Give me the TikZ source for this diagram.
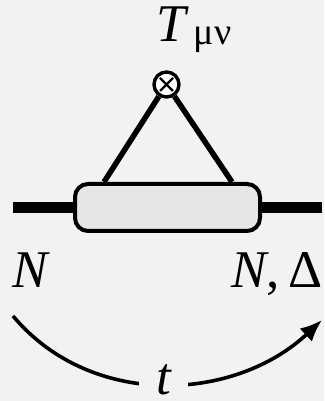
\documentclass[tikz,border=0pt]{standalone}
\usepackage{fontspec}
\setmainfont{Liberation Serif}
\usepackage{tikz}
\usetikzlibrary{arrows.meta,positioning}
\definecolor{paper}{HTML}{F2F2F2}
\definecolor{blobgray}{HTML}{E6E6E6}

\begin{document}
\begin{tikzpicture}[
    x=1pt, y=1pt,
    lbl/.style={font=\fontsize{53}{60}\selectfont, inner sep=0pt},
    blob/.style={draw, line width=4pt, rounded corners=13pt, fill=blobgray,
                 minimum width=185pt, minimum height=47pt, inner sep=0pt},
    vtx/.style={draw, circle, line width=3.4pt, fill=white,
                minimum size=25pt, inner sep=0pt},
    leg/.style={line width=11pt},
    prop/.style={line width=5.5pt},
    flow/.style={line width=3.6pt, -{Latex[length=22pt,width=18pt]}},
    tlabel/.style={lbl, fill=paper, inner xsep=17pt, inner ysep=2pt},
]
% Background and frame
\fill[paper] (0,0) rectangle (324,401);
\useasboundingbox (0,0) rectangle (324,401);

% Blob and insertion vertex
\node[blob] (blob) at (167.5,193.5) {};
\node[vtx] (vertex) at (166.5,316.5) {};
\draw[line width=2.4pt] ([shift={(-6.5,-6.5)}]vertex.center) -- ([shift={(6.5,6.5)}]vertex.center);
\draw[line width=2.4pt] ([shift={(-6.5,6.5)}]vertex.center) -- ([shift={(6.5,-6.5)}]vertex.center);

% External legs
\coordinate (inL) at (13,193.5);
\coordinate (outR) at (322,193.5);
\draw[leg] (inL) -- (blob.west);
\draw[leg] (blob.east) -- (outR);

% Current lines
\draw[prop] (vertex) -- ([xshift=-63.5pt]blob.north);
\draw[prop] (vertex) -- ([xshift=64.5pt]blob.north);

% Labels
\node[lbl, anchor=base west] (tmn) at (156,359)
  {\itshape T\/\upshape\hspace{5pt}\raisebox{-3pt}{\fontsize{38}{38}\selectfont μν}};
\node[lbl, anchor=base west] (nin) at (12,113) {\itshape N};
\node[lbl, anchor=base east] (nout) at (323,113) {\itshape N\upshape,\,Δ};

% Time arrow
\coordinate (tL) at (13,85);
\coordinate (tR) at (322,81);
\draw[flow] (tL) to[out=-50,in=-137] node[tlabel, yshift=3.5pt] (tlab) {\itshape t} (tR);
\end{tikzpicture}
\end{document}
